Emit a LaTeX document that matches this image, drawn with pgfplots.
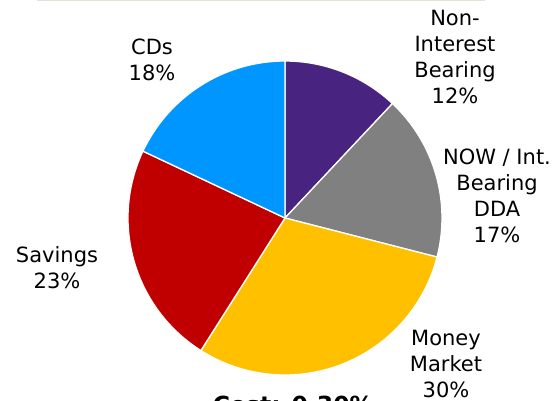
\documentclass[border=0pt]{standalone}
\usepackage{fontspec}
\setmainfont{DejaVu Sans}
\usepackage{pgfplots}
\usepackage{pgfplotstable}
\pgfplotsset{compat=1.18}

\definecolor{purp}{RGB}{72,36,128}
\definecolor{grayc}{RGB}{128,128,128}
\definecolor{goldc}{RGB}{255,192,0}
\definecolor{redc}{RGB}{192,0,0}
\definecolor{bluec}{RGB}{0,150,255}
\definecolor{topline}{RGB}{228,226,212}

% deposit mix, clockwise from 12 o'clock
\pgfplotstableread{
value color
12 purp
17 grayc
30 goldc
23 redc
18 bluec
}\piedata

\begin{document}
\begin{tikzpicture}
\begin{axis}[name=ax, width=560pt, height=401pt, scale only axis,
  xmin=0, xmax=560, ymin=0, ymax=401, hide axis, clip=false]
  \pgfplotsextra{
    \gdef\angstart{90}
    \pgfplotstableforeachcolumnelement{value}\of\piedata\as\val{
      \pgfplotstablegetelem{\pgfplotstablerow}{color}\of\piedata
      \let\col\pgfplotsretval
      \pgfmathsetmacro\angend{\angstart-3.6*\val}
      \fill[\col, draw=white, line width=1.3pt, line join=round]
        (axis cs:285,183) -- ++(\angstart:157pt) arc[start angle=\angstart, end angle=\angend, radius=157pt] -- cycle;
      \global\let\angstart\angend
    }
  }
  \draw[topline, line width=1.2pt] (axis cs:37,400.4) -- (axis cs:485,400.4);
  \begin{scope}[every node/.style={align=center, font=\fontsize{21}{26}\selectfont}]
    \node at (axis cs:152,341) {CDs\\18\%};
    \node at (axis cs:455,344) {Non-\\Interest\\Bearing\\12\%};
    \node at (axis cs:497,205) {NOW / Int.\\Bearing\\DDA\\17\%};
    \node at (axis cs:57,133) {Savings\\23\%};
    \node at (axis cs:446,37) {Money\\Market\\30\%};
  \end{scope}
  \node[anchor=base, font=\fontsize{23.5}{28}\selectfont\bfseries] at (axis cs:293,-13) {Cost: 0.30\%};
\end{axis}
\pgfresetboundingbox
\useasboundingbox (ax.south west) rectangle (ax.north east);
\end{tikzpicture}
\end{document}
